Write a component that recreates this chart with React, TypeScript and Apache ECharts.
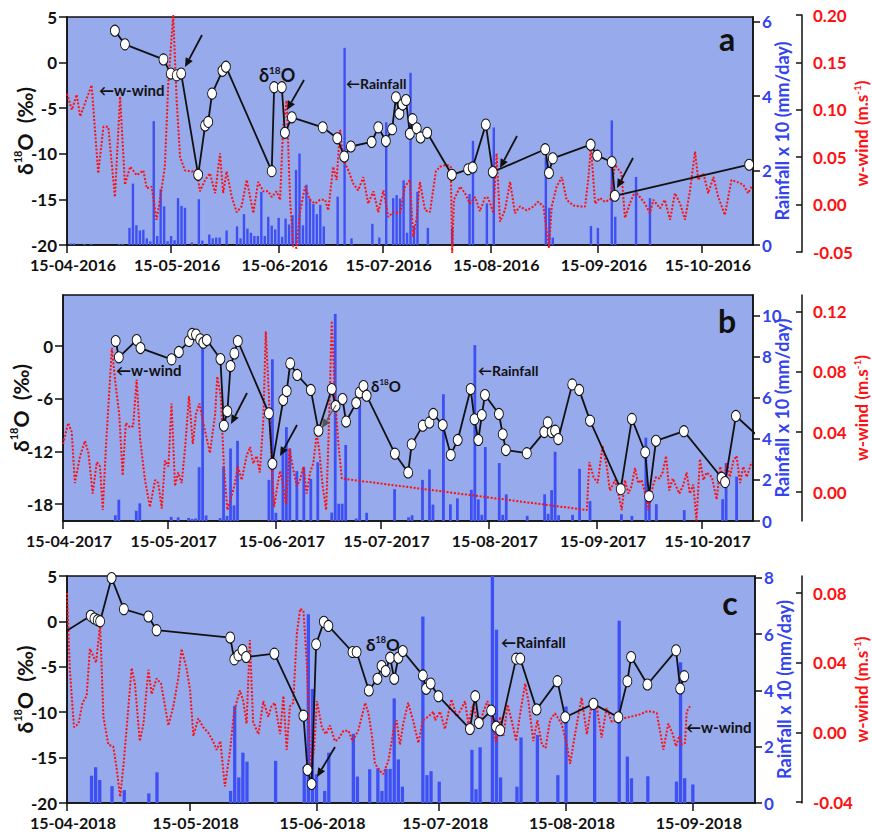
import React, { useEffect, useRef } from 'react';
import * as echarts from 'echarts';

// ---------- tick labels (x = days since 15 April) ----------
const tickDaysAB = [0, 30, 61, 91, 122, 153, 183];
const tickLabelsA = ['15-04-2016', '15-05-2016', '15-06-2016', '15-07-2016', '15-08-2016', '15-09-2016', '15-10-2016'];
const tickLabelsB = ['15-04-2017', '15-05-2017', '15-06-2017', '15-07-2017', '15-08-2017', '15-09-2017', '15-10-2017'];
const tickDaysC = [0, 30, 61, 91, 122, 153];
const tickLabelsC = ['15-04-2018', '15-05-2018', '15-06-2018', '15-07-2018', '15-08-2018', '15-09-2018'];

// ---------- panel a (2016) ----------
const o18A = [[13.8,3.5],[16.7,2.0],[27.8,0.35],[29.9,-1.2],[31.6,-1.4],[32.9,-1.2],[37.8,-12.3],[39.8,-6.9],[40.7,-6.5],[41.8,-3.4],[44.8,-0.9],[45.8,-0.45],[59.0,-11.9],[59.7,-2.7],[61.9,-2.7],[62.8,-7.7],[64.8,-6.0],[73.7,-7.1],[77.9,-8.3],[79.9,-10.3],[81.8,-9.2],[87.8,-8.7],[89.7,-7.1],[91.9,-8.6],[93.7,-7.3],[94.8,-3.8],[95.8,-5.6],[96.7,-4.6],[97.7,-4.1],[98.8,-7.8],[99.6,-6.2],[100.8,-7.2],[101.9,-8.2],[103.8,-7.7],[110.9,-12.3],[115.6,-11.7],[116.9,-11.5],[120.7,-6.8],[122.7,-12.0],[137.8,-9.5],[138.9,-12.1],[140.0,-10.5],[150.9,-9.0],[152.8,-10.2],[157.0,-10.9],[157.9,-14.6],[196.6,-11.2]];
const rainA = [[1,0.04],[2,0.04],[5,0.03],[7,0.03],[15,0.03],[16,0.03],[18,0.46],[19,1.65],[20,0.53],[21,0.39],[22,0.41],[23,0.18],[24,0.10],[25,3.33],[26,0.24],[27,1.50],[28,1.04],[29,0.10],[30,0.24],[31,0.13],[32,1.26],[33,1.05],[34,1.00],[36,0.07],[38,1.23],[39,0.12],[41,0.28],[42,0.18],[43,0.20],[44,0.20],[46,0.39],[49,0.50],[50,0.18],[51,0.83],[52,0.44],[53,0.33],[54,0.24],[55,0.24],[56,1.43],[57,0.24],[58,0.76],[59,0.52],[60,0.42],[61,0.73],[62,0.22],[63,0.71],[64,0.55],[65,0.80],[66,2.02],[67,2.46],[68,0.53],[69,1.62],[70,1.25],[71,1.10],[72,0.83],[73,1.08],[74,0.50],[78,1.30],[80,5.30],[82,0.18],[88,0.57],[90,0.20],[92,3.30],[94,1.26],[95,1.34],[96,1.25],[97,1.74],[98,0.33],[99,4.63],[100,0.52],[101,1.43],[104,0.46],[111,0.46],[116,1.37],[117,2.80],[121,1.12],[123,3.16],[138,2.35],[139,1.00],[140,0.20],[151,0.51],[153,0.46],[157,3.35],[158,0.76],[164,1.83],[168,1.26]];
const windA = [[0,0.117],[1.4,0.100],[2.8,0.116],[3.8,0.093],[5.7,0.112],[7.1,0.126],[9.0,0.033],[10.5,0.082],[11.9,0.082],[13.8,0.008],[15.3,0.114],[16.7,0.021],[18.2,0.040],[20.1,0.031],[22.0,0.036],[23.0,0.017],[24.4,0.019],[25.8,-0.016],[26.8,0.005],[28.2,0.040],[29.2,0.128],[30.6,0.200],[31.6,0.110],[32.6,0.050],[34.0,0.036],[35.9,0.035],[37.4,0.036],[38.3,0.014],[39.8,0.026],[41.2,0.033],[42.7,0.012],[44.1,0.054],[45.0,0.012],[46.0,0.035],[47.5,0.008],[48.9,-0.008],[50.3,-0.002],[51.8,0.026],[53.7,-0.009],[55.1,0.024],[56.6,0.014],[58.0,0.014],[59.0,0.008],[60.4,0.014],[61.4,0.005],[62.3,0.082],[63.3,0.110],[64.3,0.005],[65.2,-0.044],[66.2,-0.046],[67.1,-0.009],[68.6,0.019],[70.0,0.005],[71.5,0.001],[72.9,0.005],[74.4,0.005],[75.3,-0.006],[76.7,0.040],[77.7,0.026],[78.7,0.079],[79.6,0.047],[81.1,0.036],[82.5,0.022],[83.9,0.015],[85.4,0.029],[86.8,0.001],[88.3,0.014],[89.7,-0.008],[91.2,0.015],[92.6,-0.013],[94.0,-0.008],[96.0,-0.009],[97.4,0.019],[98.8,0.026],[99.8,-0.034],[100.8,-0.013],[101.7,0.024],[103.2,-0.006],[104.6,-0.008],[106.3,0.035],[107.5,0.040],[109.4,0.042],[110.6,0.040],[111.0,-0.051],[111.5,0.005],[113.3,0.019],[114.7,0.012],[116.1,0.001],[117.6,0.008],[119.0,-0.007],[120.5,0.008],[121.4,0.007],[122.9,-0.009],[123.8,0.054],[124.8,-0.018],[126.2,-0.006],[127.7,0.024],[129.1,-0.009],[130.5,-0.002],[132.5,-0.006],[134.4,-0.002],[135.8,0.003],[137.3,-0.002],[138.2,-0.027],[138.9,-0.046],[139.7,-0.002],[141.1,0.019],[142.6,0.029],[144.0,0.005],[145.9,-0.001],[147.8,-0.002],[149.3,-0.002],[150.2,0.026],[151.0,0.061],[152.2,0.001],[153.6,0.007],[155.0,0.003],[156.5,0.005],[157.9,0.042],[159.8,0.033],[160.8,-0.014],[162.2,0.001],[163.7,0.014],[165.1,0.008],[166.6,0.001],[168.0,-0.009],[169.0,0.005],[170.9,-0.004],[172.3,0.005],[173.8,-0.016],[175.2,0.012],[176.7,0.001],[178.1,-0.016],[179.5,0.014],[181.0,0.056],[181.9,0.026],[183.4,0.033],[184.8,0.012],[186.3,0.029],[187.7,0.008],[189.6,-0.011],[191.5,0.026],[193.0,0.024],[194.9,0.021],[196.3,0.012],[197.3,0.019]];

// ---------- panel b (2017) ----------
const o18B = [[15.1,0.57],[16.0,-1.29],[21.1,0.68],[22.2,-0.23],[31.1,-1.52],[33.2,-0.68],[36.1,0.57],[37.0,1.37],[38.1,1.3],[39.3,0.76],[40.2,0.38],[41.2,0.68],[45.1,-1.48],[46.1,-9.07],[47.1,-7.44],[48.0,-2.28],[49.1,-0.84],[50.1,0.57],[59.0,-7.67],[60.0,-13.4],[63.1,-6.15],[64.1,-5.13],[65.1,-1.98],[67.1,-3.3],[71.0,-5.0],[73.2,-9.64],[77.0,-4.9],[78.1,-6.83],[80.1,-6.04],[81.1,-8.6],[84.0,-6.5],[85.0,-5.3],[86.1,-4.56],[87.0,-5.66],[95.1,-12.26],[98.9,-14.4],[99.9,-11.2],[103.1,-9.07],[105.0,-8.7],[106.1,-7.74],[108.8,-9.0],[111.1,-12.4],[113.1,-10.7],[116.8,-4.9],[117.9,-8.35],[119.0,-10.7],[120.0,-7.86],[120.9,-5.58],[124.9,-7.74],[126.0,-10.06],[126.9,-11.85],[132.9,-12.2],[137.9,-9.8],[138.9,-8.7],[140.0,-9.8],[141.0,-9.64],[141.9,-10.6],[145.9,-4.37],[147.9,-5.0],[151.0,-8.5],[159.8,-16.3],[163.0,-8.3],[166.8,-12.1],[167.9,-17.1],[169.9,-10.8],[177.9,-9.7],[188.7,-15.0],[189.7,-15.5],[192.8,-7.97],[199.5,-10.4]];
const rainB = [[15,0.28],[16,1.04],[21,0.50],[22,0.86],[31,0.20],[33,0.18],[36,0.15],[37,0.10],[38,0.12],[39,2.62],[40,8.73],[41,0.27],[45,0.14],[46,2.66],[47,0.25],[48,3.53],[49,0.76],[50,3.90],[59,2.00],[60,7.87],[61,0.40],[63,3.56],[64,4.57],[65,3.53],[67,2.43],[69,2.60],[71,2.05],[73,2.86],[77,0.41],[78,10.08],[79,0.84],[80,0.84],[81,3.70],[84,0.12],[85,5.64],[87,0.40],[95,1.55],[99,0.18],[100,0.28],[103,2.00],[105,2.51],[106,0.80],[109,6.17],[111,0.81],[113,1.10],[117,1.52],[118,8.56],[119,1.05],[120,0.30],[121,3.60],[125,2.82],[126,0.30],[127,1.30],[133,0.25],[138,1.30],[139,0.35],[140,1.50],[141,3.37],[142,0.28],[146,0.30],[148,2.54],[151,0.97],[160,0.33],[163,0.25],[167,4.06],[168,1.20],[170,0.82],[178,0.53],[189,1.06],[190,2.82],[193,2.16]];
const windB = [[0,0.032],[1.5,0.046],[2.5,0.040],[3.4,0.006],[4.9,0.024],[6.3,0.034],[7.3,0.026],[8.5,-0.001],[9.7,0.020],[10.6,0.017],[11.4,-0.012],[12.3,0.030],[14.0,0.096],[14.9,0.075],[16.1,0.052],[17.1,0.011],[18.0,0.046],[19.2,0.043],[20.1,0.044],[21.1,0.075],[22.1,0.035],[23.5,0.008],[24.9,-0.010],[26.4,0.008],[27.3,0.006],[28.3,-0.011],[29.2,0.021],[30.2,0.017],[31.1,0.059],[32.1,0.004],[33.0,0.013],[34.0,0.006],[35.0,0.030],[36.1,0.064],[37.2,0.032],[38.1,0.052],[39.1,0.059],[40.2,0.046],[42.1,0.026],[43.6,0.052],[44.2,0.077],[45.2,0.064],[46.1,0.017],[47.1,-0.012],[48.0,-0.005],[49.1,0.004],[50.1,0.017],[51.2,0.008],[52.6,0.024],[53.6,0.030],[54.5,0.019],[55.5,0.024],[56.4,0.013],[57.4,0.048],[58.1,0.107],[59.0,0.064],[59.8,0.017],[60.5,-0.010],[61.4,0.004],[62.2,0.014],[63.1,0.004],[63.9,-0.008],[64.9,0.029],[65.8,0.017],[67.0,0.004],[67.9,0.008],[68.9,0.017],[69.8,-0.001],[70.8,0.013],[71.7,0.019],[72.7,0.039],[73.4,0.028],[74.4,0.004],[75.4,-0.012],[76.3,0.052],[77.0,0.114],[77.9,0.064],[78.9,0.032],[79.9,0.009],[150.1,-0.012],[150.8,0.020],[152.0,0.010],[153.2,0.006],[154.6,0.031],[155.8,0.017],[156.7,0.001],[158.2,0.008],[159.1,-0.001],[160.1,-0.012],[161.0,0.008],[162.0,-0.001],[162.9,0.004],[163.9,0.016],[164.8,0.006],[165.8,0.008],[166.8,-0.001],[167.7,-0.012],[169.0,0.004],[169.9,0.010],[170.9,0.009],[171.8,0.013],[172.8,0.024],[173.7,0.001],[174.7,0.009],[175.6,0.004],[176.6,-0.001],[177.6,0.004],[178.7,0.013],[179.6,-0.001],[180.6,0.005],[181.5,-0.019],[182.5,0.022],[183.5,0.008],[184.4,0.013],[185.9,0.010],[187.3,-0.005],[188.3,0.017],[189.2,0.008],[190.2,0.019],[191.1,0.010],[192.1,0.021],[193.0,0.024],[194.0,0.006],[194.9,0.017],[195.9,0.010],[197.3,0.020]];

// ---------- panel c (2018) ----------
const o18C = [[-1,-1.3],[5.8,0.61],[6.7,0.32],[7.5,0.13],[8.1,0.02],[10.9,4.78],[13.9,1.35],[19.9,0.54],[21.9,-0.97],[39.9,-1.78],[40.9,-4.18],[41.9,-3.74],[42.9,-3.15],[43.8,-3.92],[50.7,-3.55],[57.8,-10.38],[58.8,-16.35],[59.8,-17.9],[60.9,-2.52],[62.8,-0.05],[63.9,-0.5],[69.8,-3.37],[70.8,-3.37],[73.8,-7.6],[75.9,-6.32],[76.9,-4.92],[77.9,-5.47],[79.0,-4.0],[80.0,-6.32],[81.0,-4.0],[82.1,-3.26],[87.0,-5.95],[87.8,-7.42],[88.9,-6.84],[90.8,-8.24],[98.5,-11.85],[99.8,-8.24],[100.7,-11.18],[103.7,-9.82],[104.9,-11.6],[105.9,-11.98],[109.8,-4.1],[110.8,-4.1],[114.8,-9.7],[119.9,-6.58],[121.8,-10.56],[128.7,-9.08],[134.8,-10.56],[137.0,-6.58],[137.9,-3.93],[141.9,-6.95],[148.9,-3.19],[149.9,-7.39],[150.9,-6.03]];
const rainC = [[6,0.97],[7,1.27],[8,0.82],[11,0.60],[14,0.46],[20,0.34],[22,1.09],[40,0.43],[41,3.45],[42,0.91],[43,1.79],[44,1.47],[51,1.50],[58,1.29],[59,6.71],[60,4.05],[61,1.02],[63,0.43],[64,1.79],[70,2.46],[71,0.94],[74,1.20],[76,1.23],[77,0.43],[78,1.21],[79,1.21],[80,3.72],[81,1.55],[82,0.58],[87,6.63],[88,0.99],[89,1.13],[91,0.76],[99,1.89],[100,0.49],[101,1.98],[104,8.1],[105,6.16],[106,0.91],[110,0.58],[111,2.33],[115,2.42],[120,0.99],[122,3.43],[129,3.35],[135,6.48],[137,1.65],[138,0.88],[142,0.95],[149,0.76],[150,5.0],[151,0.88],[153,0.66]];
const windC = [[0,0.080],[0.7,0.036],[1.7,0.003],[2.8,0.005],[3.8,0.017],[4.8,0.021],[5.6,0.048],[6.4,0.044],[7.1,0.040],[8.1,0.062],[8.9,0.009],[10.1,-0.007],[11.3,-0.008],[12.1,-0.020],[13.0,-0.037],[13.8,-0.019],[14.6,0.003],[15.8,0.037],[16.6,0.028],[17.8,-0.005],[18.7,0.005],[19.9,0.036],[20.7,0.022],[21.9,0.031],[23.0,0.028],[24.8,0.004],[26.0,0.015],[27.2,0.031],[28.0,0.048],[29.3,0.036],[30.1,0.024],[30.9,-0.002],[32.1,0.008],[33.3,0.003],[34.5,0.000],[35.7,-0.005],[36.6,-0.010],[37.5,-0.005],[38.6,-0.031],[39.9,-0.010],[40.7,0.009],[41.5,0.018],[42.3,0.024],[43.1,0.018],[43.9,0.005],[44.7,0.053],[45.5,0.006],[46.8,-0.001],[48.0,0.018],[49.2,0.009],[50.0,0.015],[50.8,0.017],[52.1,-0.001],[52.9,0.021],[53.7,-0.010],[54.5,0.015],[55.3,0.017],[56.2,0.057],[57.0,0.071],[57.8,0.070],[58.6,0.041],[59.6,-0.020],[60.4,-0.010],[61.1,0.018],[62.3,0.003],[63.3,-0.001],[64.3,0.004],[65.5,-0.005],[66.3,-0.004],[67.6,0.001],[68.8,0.001],[69.8,-0.005],[71.2,0.001],[72.9,0.017],[73.7,0.011],[74.5,-0.001],[75.3,-0.018],[76.5,-0.022],[77.3,-0.024],[78.6,-0.016],[79.8,0.001],[80.6,0.007],[81.4,-0.007],[82.2,0.005],[83.4,0.017],[84.6,0.007],[85.9,-0.006],[87.0,0.007],[88.3,0.009],[89.6,0.012],[90.0,0.007],[91.2,0.012],[92.4,0.002],[94.0,0.019],[95.3,0.009],[96.5,0.014],[97.3,0.018],[98.1,0.005],[99.3,0.016],[100.2,0.007],[101.0,0.005],[101.8,0.012],[102.8,0.018],[103.8,0.010],[104.9,-0.006],[105.9,0.009],[106.7,-0.002],[107.7,0.016],[108.7,0.007],[109.8,-0.005],[110.8,0.011],[112.0,0.028],[112.8,0.018],[114.0,-0.005],[115.0,0.007],[116.1,-0.007],[117.0,-0.009],[118.1,0.007],[119.3,0.011],[120.9,0.005],[122.2,-0.007],[123.0,-0.018],[124.2,-0.001],[125.8,0.020],[127.1,-0.001],[128.3,0.017],[129.5,0.015],[130.7,-0.003],[131.9,0.014],[133.2,0.006],[134.4,0.007],[137.7,0.009],[139.7,0.010],[141.7,0.012],[143.0,0.012],[144.2,0.011],[145.8,-0.010],[147.0,0.005],[148.1,-0.001],[148.9,-0.008],[149.7,-0.002],[150.3,-0.007],[151.1,-0.006],[151.5,0.012],[152.3,0.015]];

// ---------- axis ticks ----------
const d18TicksAC = [-20, -15, -10, -5, 0, 5];
const d18TicksB = [-18, -12, -6, 0];
const rainTicksA = [0, 2, 4, 6];
const rainTicksB = [0, 2, 4, 6, 8, 10];
const rainTicksC = [0, 2, 4, 6, 8];
const windTicksA = [-0.05, 0, 0.05, 0.1, 0.15, 0.2];
const windTicksB = [0, 0.04, 0.08, 0.12];
const windTicksC = [-0.04, 0, 0.04, 0.08];

const FONT = 'Lato, "Open Sans", "DejaVu Sans", sans-serif';
const INK = '#111';
const BLUE = '#3344EE';
const RED = '#FF1010';
const BAR = '#3E50F3';
const BG = '#97AAEC';

const axisLineStyle = { color: INK, width: 1.5 };

function xAxisOf(gridIndex: number, max: number, ticks: number[], labels: string[], show: boolean) {
  return {
    type: 'value', gridIndex, min: 0, max, show,
    axisLine: { show: true, onZero: false, lineStyle: axisLineStyle },
    axisTick: { show: true, length: 8, customValues: ticks, lineStyle: axisLineStyle },
    axisLabel: {
      customValues: ticks,
      formatter: (v: number) => { const i = ticks.findIndex((t) => Math.abs(t - v) < 0.01); return i >= 0 ? labels[i] : ''; },
      margin: 11, padding: [0, 0, 0, 12], fontSize: 16, fontWeight: 'bold', color: INK, fontFamily: FONT,
    },
    splitLine: { show: false },
  };
}

const d18Name = '{b|δ}{s|18}{b|O  (‰)}';
const d18Rich = {
  b: { fontSize: 21, fontWeight: 'bold', fontFamily: FONT, color: INK, lineHeight: 24 },
  s: { fontSize: 11, fontWeight: 'bold', fontFamily: FONT, color: INK, verticalAlign: 'top', lineHeight: 14 },
};

function yLeft(gridIndex: number, min: number, max: number, ticks: number[]) {
  return {
    type: 'value', gridIndex, position: 'left', min, max,
    axisLine: { show: true, onZero: false, lineStyle: axisLineStyle },
    axisTick: { show: true, length: 8, customValues: ticks, lineStyle: axisLineStyle },
    axisLabel: { customValues: ticks, margin: 10, fontSize: 17, fontWeight: 'bold', color: INK, fontFamily: FONT },
    splitLine: { show: false },
    name: d18Name, nameLocation: 'middle', nameRotate: 90, nameGap: 31, nameMoveOverlap: false,
    nameTextStyle: { rich: d18Rich },
  };
}

function yRain(gridIndex: number, min: number, max: number, ticks: number[]) {
  return {
    type: 'value', gridIndex, position: 'right', min, max,
    axisLine: { show: true, onZero: false, lineStyle: axisLineStyle },
    axisTick: { show: true, length: 7, customValues: ticks, lineStyle: axisLineStyle },
    axisLabel: { customValues: ticks, margin: 9, fontSize: 17, fontWeight: 'bold', color: BLUE, fontFamily: FONT },
    splitLine: { show: false },
    name: 'Rainfall x 10 (mm/day)', nameLocation: 'middle', nameRotate: 90, nameGap: 20, nameMoveOverlap: false,
    nameTextStyle: { fontSize: 18, fontWeight: 'bold', color: BLUE, fontFamily: FONT },
  };
}

function yWind(gridIndex: number, min: number, max: number, ticks: number[], offset: number) {
  return {
    type: 'value', gridIndex, position: 'right', offset, min, max,
    axisLine: { show: true, onZero: false, lineStyle: axisLineStyle },
    axisTick: { show: true, inside: true, length: 6, customValues: ticks, lineStyle: axisLineStyle },
    axisLabel: {
      customValues: ticks, margin: 11, fontSize: 17, fontWeight: 'bold', color: RED, fontFamily: FONT,
      formatter: (v: number) => v.toFixed(2),
    },
    splitLine: { show: false },
    name: '{r|w-wind (m.s}{s|-1}{r|)}', nameLocation: 'middle', nameRotate: 90, nameGap: 50, nameMoveOverlap: false,
    nameTextStyle: {
      rich: {
        r: { fontSize: 17, fontWeight: 'bold', color: RED, fontFamily: FONT, lineHeight: 19 },
        s: { fontSize: 10, fontWeight: 'bold', color: RED, fontFamily: FONT, verticalAlign: 'top', lineHeight: 10 },
      },
    },
  };
}

function barSeries(x: number, y: number, data: number[][], w: number) {
  return { type: 'bar', xAxisIndex: x, yAxisIndex: y, data, barWidth: w, itemStyle: { color: BAR }, z: 2 };
}
function windSeries(x: number, y: number, data: number[][]) {
  return {
    type: 'line', xAxisIndex: x, yAxisIndex: y, data, showSymbol: false, symbol: 'none', z: 3,
    lineStyle: { color: RED, width: 2, type: [2, 1.7], cap: 'butt' },
  };
}
function o18Series(x: number, y: number, data: number[][]) {
  return {
    type: 'line', xAxisIndex: x, yAxisIndex: y, data, z: 4,
    symbol: 'circle', symbolSize: [9, 11], showSymbol: true,
    lineStyle: { color: INK, width: 1.8 },
    itemStyle: { color: '#fff', borderColor: INK, borderWidth: 1 },
  };
}

function arrow(x1: number, y1: number, x2: number, y2: number, color = INK, w = 1.8) {
  const dx = x2 - x1, dy = y2 - y1;
  const L = Math.hypot(dx, dy);
  const ux = dx / L, uy = dy / L;
  const hl = 9, hw = 4;
  const bx = x2 - ux * hl, by = y2 - uy * hl;
  return [
    { type: 'line', z: 100, silent: true, shape: { x1, y1, x2: bx, y2: by }, style: { stroke: color, lineWidth: w } },
    { type: 'polygon', z: 100, silent: true, shape: { points: [[x2, y2], [bx - uy * hw, by + ux * hw], [bx + uy * hw, by - ux * hw]] }, style: { fill: color } },
  ];
}
function label(x: number, y: number, text: string, size: number) {
  return {
    type: 'text', z: 100, silent: true, x, y,
    style: { text, fill: INK, fontSize: size, fontWeight: 'bold', fontFamily: FONT, align: 'left', verticalAlign: 'middle' },
  };
}
function d18Label(x: number, y: number, size: number) {
  return {
    type: 'text', z: 100, silent: true, x, y,
    style: {
      text: '{b|δ}{s|18}{b|O}', align: 'left', verticalAlign: 'middle',
      rich: {
        b: { fontSize: size, fontWeight: 'bold', fontFamily: FONT, fill: INK, lineHeight: size + 2 },
        s: { fontSize: Math.round(size * 0.55), fontWeight: 'bold', fontFamily: FONT, fill: INK, verticalAlign: 'top', lineHeight: 10 },
      },
    },
  };
}
function panelLetter(x: number, y: number, t: string) {
  return {
    type: 'text', z: 100, silent: true, x, y,
    style: { text: t, fill: INK, fontSize: 32, fontWeight: 'bold', fontFamily: FONT, align: 'center', verticalAlign: 'middle' },
  };
}

const gridBase = { outerBoundsMode: 'none', containLabel: false };

const option = {
  animation: false,
  backgroundColor: '#fff',
  grid: [
    { ...gridBase, left: 67, right: 119, top: 17, height: 228, show: true, backgroundColor: BG, borderColor: INK, borderWidth: 1.5 },
    { ...gridBase, left: 67, right: 119, top: 15, height: 237, show: false },
    { ...gridBase, left: 63, right: 119, top: 295, height: 226, show: true, backgroundColor: BG, borderColor: INK, borderWidth: 1.5 },
    { ...gridBase, left: 67, right: 117, top: 576, height: 227, show: true, backgroundColor: BG, borderColor: INK, borderWidth: 1.5 },
  ],
  xAxis: [
    xAxisOf(0, 197.7, tickDaysAB, tickLabelsA, true),
    xAxisOf(1, 197.7, tickDaysAB, tickLabelsA, false),
    xAxisOf(2, 197.7, tickDaysAB, tickLabelsB, true),
    xAxisOf(3, 168.2, tickDaysC, tickLabelsC, true),
  ],
  yAxis: [
    yLeft(0, -20, 5, d18TicksAC),
    yRain(0, 0, 6.13, rainTicksA),
    yWind(1, -0.05, 0.2, windTicksA, 49),
    yLeft(2, -19.93, 5.81, d18TicksB),
    yRain(2, 0, 11.0, rainTicksB),
    yWind(2, -0.0193, 0.1313, windTicksB, 49),
    yLeft(3, -20, 5, d18TicksAC),
    yRain(3, 0, 8.07, rainTicksC),
    yWind(3, -0.0405, 0.0898, windTicksC, 47),
  ],
  series: [
    barSeries(0, 1, rainA, 2.4),
    windSeries(1, 2, windA),
    o18Series(0, 0, o18A),
    barSeries(2, 4, rainB, 2.8),
    windSeries(2, 5, windB),
    o18Series(2, 3, o18B),
    barSeries(3, 7, rainC, 3.3),
    windSeries(3, 8, windC),
    o18Series(3, 6, o18C),
  ],
  graphic: [
    panelLetter(727, 38, 'a'),
    panelLetter(727, 320, 'b'),
    panelLetter(730, 602, 'c'),
    label(99, 90, '←w-wind', 15),
    d18Label(259, 75, 18),
    label(346, 83, '←Rainfall', 14),
    ...arrow(202, 35, 185, 67),
    ...arrow(304, 80, 287, 110),
    ...arrow(517, 136, 500, 168),
    ...arrow(633, 158, 617, 188),
    label(116, 370, '←w-wind', 15),
    d18Label(371, 386, 15),
    label(478, 370, '←Rainfall', 14),
    ...arrow(247, 393, 231, 424),
    ...arrow(297, 425, 280, 456),
    ...arrow(336, 405, 322, 428, '#555', 1.2),
    d18Label(366, 644, 17),
    label(501, 642, '←Rainfall', 15),
    label(686, 727, '←w-wind', 15),
    ...arrow(335, 747, 317, 777),
  ],
};

export default function App() {
  const ref = useRef<HTMLDivElement>(null);
  useEffect(() => {
    const chart = echarts.init(ref.current as HTMLDivElement, null, { renderer: 'svg' });
    chart.setOption(option as any);
    return () => chart.dispose();
  }, []);
  return (
    <div
      ref={ref}
      style={{ position: 'absolute', left: 0, top: 0, width: 872, height: 834, background: '#fff' }}
    />
  );
}
